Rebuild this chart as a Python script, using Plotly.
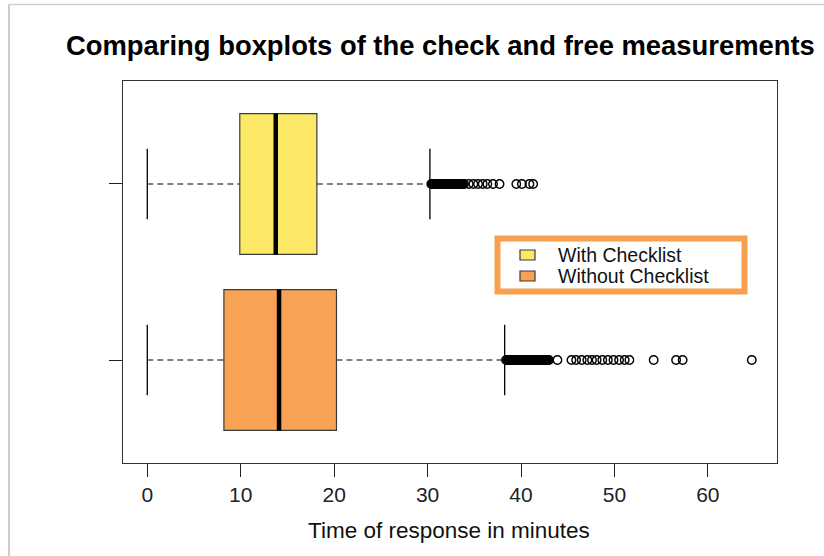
import plotly.graph_objects as go

# ---- data -------------------------------------------------------------
groups = ["With Checklist", "Without Checklist"]
group_pos = [2, 1]                     # vertical slot of each group
fill_colors = ["#FDE866", "#F8A354"]

# five-number summaries (minutes): lower whisker, Q1, median, Q3, upper whisker
lower_whisker = [0.0, 0.0]
q1 = [9.9, 8.2]
median = [13.75, 14.1]
q3 = [18.15, 20.25]
upper_whisker = [30.25, 38.25]

outliers_with = [
    30.4, 30.5, 30.6, 30.7, 30.8, 30.9, 31.0, 31.1, 31.2, 31.3, 31.4, 31.5,
    31.6, 31.7, 31.8, 31.9, 32.0, 32.1, 32.2, 32.3, 32.4, 32.5, 32.6, 32.7,
    32.8, 32.9, 33.0, 33.1, 33.2, 33.3, 33.4, 33.5, 33.6, 33.7, 33.8, 33.9,
    34.4, 34.9, 35.4, 35.9, 36.4, 37.0, 37.7, 39.5, 40.1, 40.9, 41.3,
]
outliers_without = [
    38.4, 38.5, 38.6, 38.7, 38.8, 38.9, 39.0, 39.1, 39.2, 39.3, 39.4, 39.5,
    39.6, 39.7, 39.8, 39.9, 40.0, 40.1, 40.2, 40.3, 40.4, 40.5, 40.6, 40.7,
    40.8, 40.9, 41.0, 41.1, 41.2, 41.3, 41.4, 41.5, 41.6, 41.7, 41.8, 41.9,
    42.0, 42.1, 42.2, 42.3, 42.4, 42.5, 42.6, 42.7, 42.8, 42.9, 43.0,
    43.9, 45.4, 45.9, 46.5, 47.1, 47.6, 48.1, 48.7, 49.3, 49.9, 50.5, 51.1,
    51.6, 54.2, 56.6, 57.3, 64.7,
]
outliers = [outliers_with, outliers_without]

x_ticks = [0, 10, 20, 30, 40, 50, 60]
title_text = "Comparing boxplots of the check and free measurements"
x_title = "Time of response in minutes"

# ---- geometry ---------------------------------------------------------
W, H = 824, 556
ML, MR, MT, MB = 123, 47, 81, 93
PW, PH = W - ML - MR, H - MT - MB
BOX_HALF = 0.4
CAP_HALF = 0.2
FONT = "Liberation Sans, Arial, sans-serif"


def paper_x(px):
    return (px - ML) / PW


def paper_y(py):
    return (H - MB - py) / PH


fig = go.Figure()
shapes = []

for i, g in enumerate(groups):
    y0 = group_pos[i]
    # dashed whiskers
    for a, b in ((lower_whisker[i], q1[i]), (q3[i], upper_whisker[i])):
        shapes.append(dict(type="line", xref="x", yref="y", x0=a, x1=b, y0=y0, y1=y0,
                           line=dict(color="black", width=1.2, dash="6px,4px")))
    # whisker caps
    for v in (lower_whisker[i], upper_whisker[i]):
        shapes.append(dict(type="line", xref="x", yref="y", x0=v, x1=v,
                           y0=y0 - CAP_HALF, y1=y0 + CAP_HALF,
                           line=dict(color="black", width=1.3)))
    # box
    shapes.append(dict(type="rect", xref="x", yref="y", x0=q1[i], x1=q3[i],
                       y0=y0 - BOX_HALF, y1=y0 + BOX_HALF,
                       fillcolor=fill_colors[i], line=dict(color="#3a3a3a", width=1.2)))
    # median
    shapes.append(dict(type="line", xref="x", yref="y", x0=median[i], x1=median[i],
                       y0=y0 - BOX_HALF, y1=y0 + BOX_HALF,
                       line=dict(color="black", width=4.5)))

    fig.add_trace(go.Scatter(
        x=outliers[i], y=[y0] * len(outliers[i]), mode="markers", name=g,
        marker=dict(symbol="circle-open", size=8.5, color="black", line=dict(width=1.4)),
        showlegend=False, hoverinfo="x",
    ))

# page border (thin grey frame on the top and left)
shapes.append(dict(type="line", xref="paper", yref="paper",
                   x0=paper_x(9), x1=paper_x(830), y0=paper_y(4.5), y1=paper_y(4.5),
                   line=dict(color="#cfcfcf", width=1.5)))
shapes.append(dict(type="line", xref="paper", yref="paper",
                   x0=paper_x(9), x1=paper_x(9), y0=paper_y(4.5), y1=paper_y(560),
                   line=dict(color="#bdbdbd", width=1.5)))

# legend frame and keys
shapes.append(dict(type="rect", xref="paper", yref="paper",
                   x0=paper_x(497.5), x1=paper_x(744.5), y0=paper_y(291.5), y1=paper_y(238.5),
                   fillcolor="white", line=dict(color="#F8A04F", width=6)))
annotations = []
key_rows = [255, 276]
for i, g in enumerate(groups):
    cy = key_rows[i]
    shapes.append(dict(type="rect", xref="paper", yref="paper",
                       x0=paper_x(520), x1=paper_x(535), y0=paper_y(cy + 5), y1=paper_y(cy - 5),
                       fillcolor=fill_colors[i], line=dict(color="#3a3a3a", width=1.2)))
    annotations.append(dict(text=g, xref="paper", yref="paper", x=paper_x(556), y=paper_y(cy),
                            xanchor="left", yanchor="middle", showarrow=False,
                            font=dict(family=FONT, size=19.5, color="#111111")))

annotations.append(dict(text=x_title, xref="paper", yref="paper",
                        x=paper_x(449), y=paper_y(530), xanchor="center", yanchor="middle",
                        showarrow=False, font=dict(family=FONT, size=22.5, color="#111111")))

fig.update_layout(
    width=W, height=H,
    margin=dict(l=ML, r=MR, t=MT, b=MB),
    paper_bgcolor="white", plot_bgcolor="white",
    title=dict(text="<b>" + title_text + "</b>", x=66 / W, xanchor="left",
               y=1 - 45 / H, yanchor="middle",
               font=dict(family=FONT, size=27.4, color="black")),
    showlegend=False,
    shapes=shapes,
    annotations=annotations,
    xaxis=dict(range=[-2.6, 67.4], tickvals=x_ticks, ticktext=[str(t) for t in x_ticks],
               ticks="outside", ticklen=13, tickwidth=1, tickcolor="#222",
               showgrid=False, zeroline=False, showline=True, linecolor="#333",
               linewidth=1.2, mirror=True,
               tickfont=dict(family=FONT, size=21, color="#222")),
    yaxis=dict(range=[0.415, 2.585], tickvals=group_pos, showticklabels=False,
               ticks="outside", ticklen=13, tickwidth=1, tickcolor="#222",
               showgrid=False, zeroline=False, showline=True, linecolor="#333",
               linewidth=1.2, mirror=True),
)

fig.write_html("out.html")
